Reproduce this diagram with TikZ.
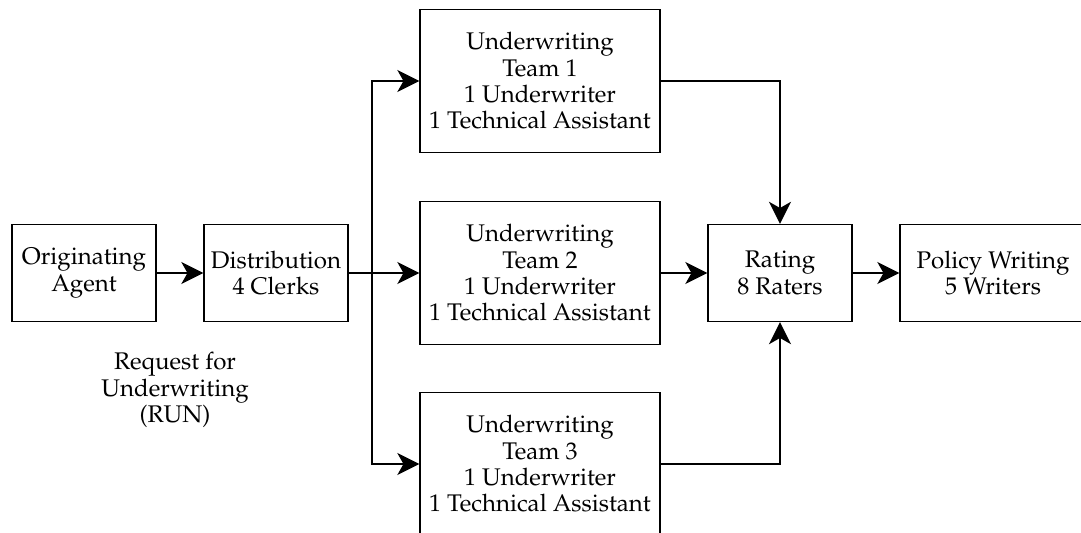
\documentclass[tikz,border=0pt]{standalone}
\usepackage[T1]{fontenc}
\usepackage{mathpazo}
\usetikzlibrary{arrows.meta}
\tikzset{
  unit/.style={draw, line width=0.8pt, align=center, font=\fontsize{13.7}{15}\selectfont,
    minimum width=144*0.02cm, minimum height=97*0.02cm, inner sep=0pt},
  team/.style={unit, minimum width=240*0.02cm, minimum height=143*0.02cm},
  flow/.style={line width=1.2pt, -{Stealth[length=12.5pt, width=12.5pt, inset=3.5pt]}}
}
\begin{document}
\begin{tikzpicture}[x=0.02cm, y=-0.02cm]
  \useasboundingbox (0,0) rectangle (1081,533);
  % left: agent and distribution
  \node[unit] (agent) at (84,273) {Originating\\Agent};
  \node[unit] (dist) at (276,273) {Distribution\\4 Clerks};
  \node[align=center, font=\fontsize{13.7}{15}\selectfont] (run) at (175,390)
    {Request for\\Underwriting\\(RUN)};
  % middle: three underwriting teams
  \node[team] (team1) at (540,81) {Underwriting\\Team 1\\1 Underwriter\\1 Technical Assistant};
  \node[team] (team2) at (540,273) {Underwriting\\Team 2\\1 Underwriter\\1 Technical Assistant};
  \node[team] (team3) at (540,464) {Underwriting\\Team 3\\1 Underwriter\\1 Technical Assistant};
  % right: rating and policy writing
  \node[unit] (rating) at (780,273) {Rating\\8 Raters};
  \node[unit, minimum width=186*0.02cm] (policy) at (993,273) {Policy Writing\\5 Writers};
  \coordinate (split) at (372,273);
  \draw[flow] (agent) -- (dist);
  \draw[flow] (dist) -- (team2);
  \draw[flow] (split) |- (team1);
  \draw[flow] (split) |- (team3);
  \draw[flow] (team1) -| (rating);
  \draw[flow] (team3) -| (rating);
  \draw[flow] (team2) -- (rating);
  \draw[flow] (rating) -- (policy);
\end{tikzpicture}
\end{document}
